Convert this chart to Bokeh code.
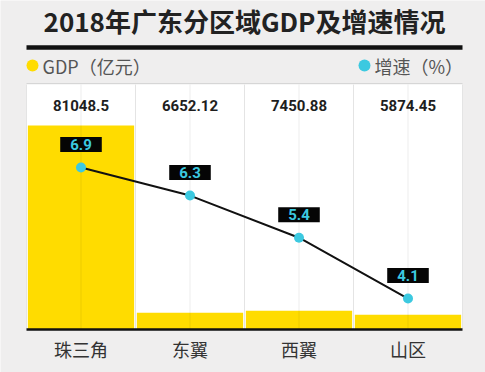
from bokeh.plotting import figure
from bokeh.models import Range1d, Label
from bokeh.core.properties import value
from bokeh.embed import file_html
from bokeh.resources import INLINE

categories = ["珠三角", "东翼", "西翼", "山区"]
gdp = [81048.5, 6652.12, 7450.88, 5874.45]
gdp_labels = ["81048.5", "6652.12", "7450.88", "5874.45"]
growth = [6.9, 6.3, 5.4, 4.1]
growth_labels = ["6.9", "6.3", "5.4", "4.1"]
title_text = "2018年广东分区域GDP及增速情况"
legend_gdp = "GDP（亿元）"
legend_growth = "增速（%）"

W, H = 485, 372
def fy(wy):
    return H - wy
def fx(wx):
    return wx

COL_W = 109.0
LEFT = 26
n = len(categories)
BASE = 329
TOP = 84

CJK = "Noto Sans CJK SC"
YEL = "#ffdc00"
CYAN = "#3cc9e0"
BG = "#efeeee"

p = figure(width=W, height=H, output_backend="svg", toolbar_location=None,
           x_axis_location=None, y_axis_location=None, min_border=0,
           x_range=Range1d(-fx(LEFT) / COL_W, (W - fx(LEFT)) / COL_W),
           y_range=Range1d(0, H))
p.background_fill_color = BG
p.border_fill_color = BG
p.outline_line_color = None
p.grid.visible = False

# gdp scale: panel top corresponds to gdp_top
gdp_top = 97300.0
base_px = fy(BASE)
panel_px = BASE - TOP
p.extra_y_ranges = {
    "gdp": Range1d(-base_px / panel_px * gdp_top, (H - base_px) / panel_px * gdp_top),
    "growth": Range1d(6.9 - (H - 167) / 46.8, 6.9 + 167 / 46.8),
}

xs = [i + 0.5 for i in range(n)]

# white panel
p.quad(left=[0], right=[n], bottom=[fy(BASE)], top=[fy(TOP)], fill_color="white", line_color=None)
# boundary lines
p.segment(x0=list(range(n + 1)), x1=list(range(n + 1)), y0=fy(BASE), y1=fy(TOP),
          line_color="#e4e4e4", line_width=1)
# bars
p.vbar(x=xs, width=0.975, bottom=0, top=gdp, y_range_name="gdp", fill_color=YEL, line_color=None)
# center lines
p.segment(x0=xs, x1=xs, y0=fy(BASE), y1=fy(TOP), line_color="#000000", line_alpha=0.07, line_width=1)
# baseline
p.segment(x0=[0], x1=[n], y0=[fy(BASE)], y1=[fy(BASE)], line_color="#111111", line_width=2.5)
# top separators
p.segment(x0=[0], x1=[n], y0=[fy(47)], y1=[fy(47)], line_color="#111111", line_width=4.5)
p.segment(x0=[0], x1=[n], y0=[fy(83)], y1=[fy(83)], line_color="#d6d6d6", line_width=1)

# growth line
p.line(xs, growth, y_range_name="growth", line_color="#111111", line_width=2)
p.scatter(xs, growth, y_range_name="growth", size=10, fill_color=CYAN, line_color=None)
p.text(xs, growth, text=growth_labels, y_range_name="growth", y_offset=-23,
       text_align="center", text_baseline="middle", text_color=CYAN,
       text_font=value("Roboto"), text_font_size="15px", text_font_style="bold",
       background_fill_color="#050505", padding=[10, 10, 2, 2])

# gdp labels
p.text(xs, [fy(105)] * n, text=gdp_labels, text_align="center", text_baseline="middle",
       text_color="#1e1e1e", text_font=value("Roboto"), text_font_size="15px",
       text_font_style="bold")
# category labels
p.text(xs, [fy(348)] * n, text=categories, text_align="center", text_baseline="middle",
       text_color="#333333", text_font=value(CJK), text_font_size="18px")

# title
p.add_layout(Label(x=fx(244), y=fy(20), x_units="screen", y_units="screen", text=title_text,
                   text_align="center", text_baseline="middle", text_font=CJK,
                   text_font_size="26px", text_font_style="bold", text_color="#222222"))
# legend
p.scatter([(fx(32) - fx(LEFT)) / COL_W, (fx(364) - fx(LEFT)) / COL_W], [fy(65), fy(65)],
          size=12, fill_color=[YEL, CYAN], line_color=None)
p.add_layout(Label(x=fx(42), y=fy(65), x_units="screen", y_units="screen", text=legend_gdp,
                   text_baseline="middle", text_font=CJK, text_font_size="18px", text_color="#555555"))
p.add_layout(Label(x=fx(374), y=fy(65), x_units="screen", y_units="screen", text=legend_growth,
                   text_baseline="middle", text_font=CJK, text_font_size="18px", text_color="#555555"))

open("out.html", "w").write(file_html(p, INLINE))
